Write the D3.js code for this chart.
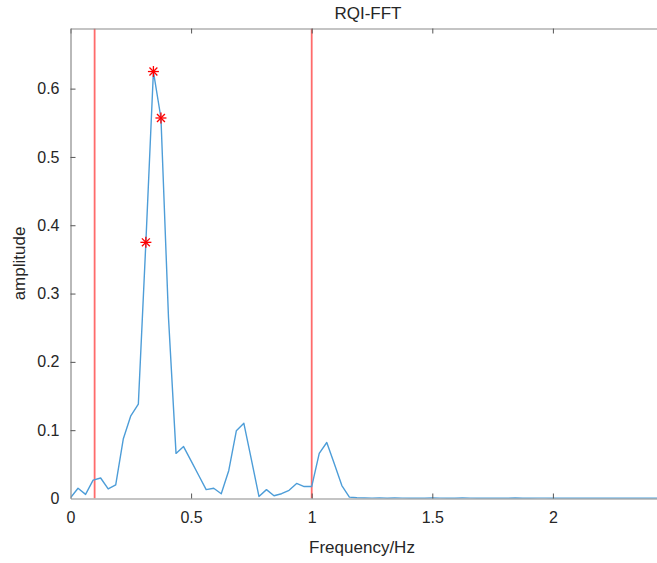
<!DOCTYPE html>
<html>
<head>
<meta charset="utf-8">
<script src="https://cdn.jsdelivr.net/npm/d3@7"></script>
<style>
  html, body { margin: 0; padding: 0; background: #fff; }
  svg text { font-family: "Liberation Sans", Arial, Helvetica, sans-serif; fill: #262626; }
</style>
</head>
<body>
<svg id="chart" width="657" height="563"></svg>
<script>
  const df = 1 / 32;
  const amplitude = [
    0.001, 0.015, 0.006, 0.027, 0.030, 0.014, 0.020, 0.087, 0.121, 0.138,
    0.375, 0.625, 0.557, 0.265, 0.066, 0.076, 0.055, 0.034, 0.013, 0.015,
    0.007, 0.041, 0.099, 0.110, 0.057, 0.003, 0.013, 0.004, 0.007, 0.012,
    0.022, 0.0175, 0.0175, 0.066, 0.082, 0.051, 0.019, 0.002, 0.001, 0.0008,
    0.0006, 0.0009, 0.0004, 0.0007, 0.0005, 0.0003, 0.0006, 0.0004, 0.0008, 0.0005,
    0.0003, 0.0004, 0.0007, 0.0005, 0.0003, 0.0006, 0.0004, 0.0005, 0.0003, 0.0007,
    0.0004, 0.0003, 0.0005, 0.0006, 0.0004, 0.0003, 0.0005, 0.0004, 0.0006, 0.0003,
    0.0004, 0.0005, 0.0003, 0.0004, 0.0006, 0.0004, 0.0003, 0.0005, 0.0004, 0.0003,
    0.0004
  ];
  const peakIdx = [10, 11, 12];        // marked with red asterisks
  const bandEdges = [0.1, 1.0];         // red vertical lines
  const xTicks = [0, 0.5, 1, 1.5, 2];
  const yTicks = [0, 0.1, 0.2, 0.3, 0.4, 0.5, 0.6];

  const data = amplitude.map((a, i) => ({ f: i * df, a: a }));

  const svg = d3.select("#chart");
  const mLeft = 70.5, mTop = 28.5, mBottom = 498.5, mRight = 673.5;

  const x = d3.scaleLinear().domain([0, 2.5]).range([mLeft, mRight]);
  const y = d3.scaleLinear().domain([0, 0.688]).range([mBottom, mTop]);

  svg.append("defs").append("clipPath").attr("id", "plot-clip")
    .append("rect").attr("x", mLeft).attr("y", mTop)
    .attr("width", mRight - mLeft).attr("height", mBottom - mTop);

  const plot = svg.append("g").attr("clip-path", "url(#plot-clip)");

  // band edge lines
  bandEdges.forEach(f => {
    plot.append("line")
      .attr("x1", x(f)).attr("x2", x(f))
      .attr("y1", mTop).attr("y2", mBottom)
      .attr("stroke", "#ff6b6b").attr("stroke-width", 1.8);
  });

  // spectrum
  plot.append("path")
    .datum(data)
    .attr("fill", "none")
    .attr("stroke", "#4d9dd8")
    .attr("stroke-width", 1.4)
    .attr("stroke-linejoin", "round")
    .attr("d", d3.line().x(d => x(d.f)).y(d => y(d.a)));

  // axes box (left, bottom, top)
  const axisColor = "#8a8a8a";
  const bottomAxis = svg.append("g")
    .attr("transform", `translate(0,${mBottom})`)
    .call(d3.axisBottom(x).tickValues(xTicks).tickSizeInner(-5).tickSizeOuter(0)
      .tickPadding(13).tickFormat(d3.format("")));
  const topAxis = svg.append("g")
    .attr("transform", `translate(0,${mTop})`)
    .call(d3.axisTop(x).tickValues(xTicks).tickSizeInner(-5).tickSizeOuter(0).tickFormat(""));
  const leftAxis = svg.append("g")
    .attr("transform", `translate(${mLeft},0)`)
    .call(d3.axisLeft(y).tickValues(yTicks).tickSizeInner(-5).tickSizeOuter(0)
      .tickPadding(11).tickFormat(d3.format("")));

  [bottomAxis, topAxis, leftAxis].forEach(g => {
    g.select(".domain").attr("stroke", axisColor).attr("stroke-width", 1.2);
    g.selectAll(".tick line").attr("stroke", "#555");
    g.selectAll(".tick text").attr("font-size", 16).attr("fill", "#262626");
  });
  bottomAxis.selectAll(".tick").filter(d => d === 0).select("line").remove();
  leftAxis.selectAll(".tick").filter(d => d === 0).select("line").remove();

  // peak markers
  const star = svg.append("g");
  peakIdx.forEach(i => {
    const cx = x(data[i].f), cy = y(data[i].a), r = 5.5;
    [[r, 0], [0, r], [r * 0.72, r * 0.72], [r * 0.72, -r * 0.72]].forEach(([dx, dy]) => {
      star.append("line")
        .attr("x1", cx - dx).attr("y1", cy - dy)
        .attr("x2", cx + dx).attr("y2", cy + dy)
        .attr("stroke", "#ff0000").attr("stroke-width", 1.3);
    });
  });

  // labels
  svg.append("text")
    .attr("x", 368).attr("y", 19)
    .attr("text-anchor", "middle").attr("font-size", 17)
    .text("RQI-FFT");
  svg.append("text")
    .attr("x", 362).attr("y", 553)
    .attr("text-anchor", "middle").attr("font-size", 17)
    .text("Frequency/Hz");
  svg.append("text")
    .attr("transform", `translate(25,${(mTop + mBottom) / 2}) rotate(-90)`)
    .attr("text-anchor", "middle").attr("font-size", 17)
    .text("amplitude");
</script>
</body>
</html>
